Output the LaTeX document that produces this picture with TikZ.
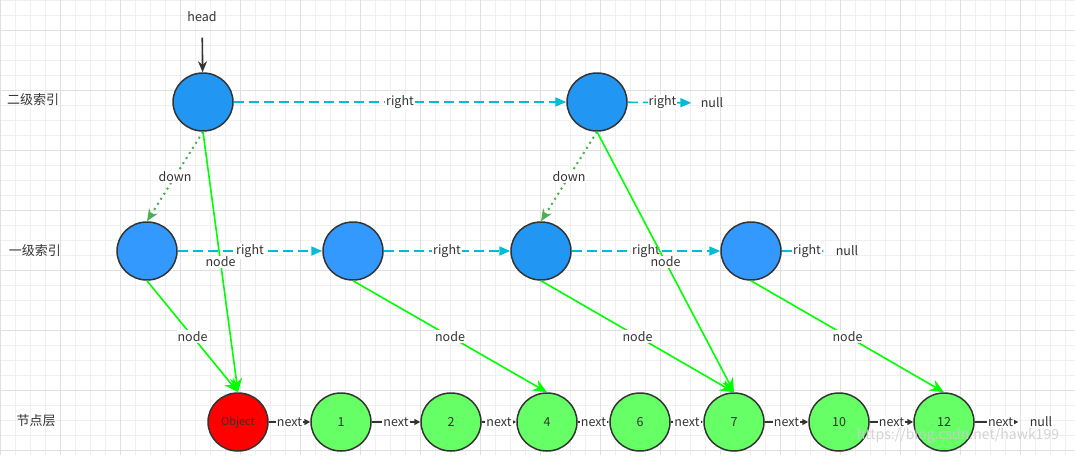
\documentclass[tikz,border=0pt]{standalone}
\usepackage{fontspec}
\setmainfont{Noto Sans CJK SC}
\usetikzlibrary{arrows.meta, shapes.geometric}

\definecolor{gridminor}{HTML}{F0F0F0}
\definecolor{gridmajor}{HTML}{E0E0E0}
\definecolor{idxdark}{HTML}{2196F3}
\definecolor{idxlight}{HTML}{3399FF}
\definecolor{datagreen}{HTML}{66FF66}
\definecolor{linkcyan}{HTML}{00BCD4}
\definecolor{downgreen}{HTML}{4CAF50}
\definecolor{nodegreen}{HTML}{00FF00}
\definecolor{inkgray}{HTML}{333333}

\tikzset{
  cell/.style={ellipse, draw=inkgray, line width=1.5pt, minimum width=60pt,
    minimum height=58pt, inner sep=0pt},
  lbl/.style={fill=white, inner sep=1pt},
  rightlink/.style={linkcyan, line width=1.6pt, dash pattern=on 10pt off 5pt,
    -{Triangle[length=11pt,width=9pt]}},
  downlink/.style={downgreen, line width=2pt, dash pattern=on 2pt off 4pt,
    -{Stealth[length=12pt,width=10pt]}},
  nodelink/.style={nodegreen, line width=1.6pt, -{Stealth[length=14pt,width=12pt]}},
  nextlink/.style={inkgray, line width=2pt, -{Triangle[length=6pt,width=6pt]}},
}

\begin{document}
\begin{tikzpicture}[x=1pt, y=-1pt,
  every node/.style={font=\fontsize{12.5}{14}\selectfont, text=inkgray}]
\useasboundingbox (0,0) rectangle (1075,455);
% Background grid
\fill[white] (0,0) rectangle (1075,455);
\foreach \gx in {0,15,...,1075} \draw[gridminor, line width=0.8pt] (\gx,0) -- (\gx,455);
\foreach \gy in {0,15,...,450} \draw[gridminor, line width=0.8pt] (0,\gy) -- (1075,\gy);
\foreach \gx in {0,60,...,1075} \draw[gridmajor, line width=0.8pt] (\gx,0) -- (\gx,455);
\foreach \gy in {30,90,...,450} \draw[gridmajor, line width=0.8pt] (0,\gy) -- (1075,\gy);

% Level names
\node (lv2) at (33,100) {\fontsize{13}{15}\selectfont 二级索引};
\node (lv1) at (35,251) {\fontsize{13}{15}\selectfont 一级索引};
\node (lv0) at (36,421) {\fontsize{13}{15}\selectfont 节点层};

% Second level index
\node[cell, fill=idxdark] (a) at (203,102) {};
\node[cell, fill=idxdark] (b) at (597,102) {};
\node (nullb) at (712,103) {null};

% First level index
\node[cell, fill=idxlight] (c) at (147,251) {};
\node[cell, fill=idxlight] (d) at (353,251) {};
\node[cell, fill=idxdark] (e) at (541,251) {};
\node[cell, fill=idxlight] (f) at (751,251) {};
\node (nullf) at (847,251) {null};

% Node layer
\node[cell, fill=red] (obj) at (238,422) {\fontsize{11}{13}\selectfont Object};
\node[cell, fill=datagreen] (n1) at (341,422) {1};
\node[cell, fill=datagreen] (n2) at (451,422) {2};
\node[cell, fill=datagreen] (n4) at (547,422) {4};
\node[cell, fill=datagreen] (n6) at (640,422) {6};
\node[cell, fill=datagreen] (n7) at (734,422) {7};
\node[cell, fill=datagreen] (n10) at (839,422) {10};
\node[cell, fill=datagreen] (n12) at (944,422) {12};
\node (null0) at (1041,422) {null};

% Head pointer
\node (head) at (202,17) {head};
\draw[inkgray, line width=1.6pt, -{Stealth[length=11pt,width=9pt]}, shorten <=12pt] (head) -- (a);

% Right links
\draw[rightlink] (a) -- node[lbl]{right} (b);
\draw[rightlink, shorten >=6pt] (b) -- node[lbl]{right} (nullb);
\draw[rightlink] (c) -- node[lbl]{right} (d);
\draw[rightlink] (d) -- node[lbl]{right} (e);
\draw[rightlink] (e) -- node[lbl]{right} (f);
\draw[rightlink, shorten >=8pt] (f) -- node[lbl]{right} (nullf);

% Down links
\draw[downlink] (a.south) -- node[lbl]{down} (c.north);
\draw[downlink] (b.south) -- node[lbl]{down} (e.north);

% Node links
\draw[nodelink] (a.south) -- node[lbl]{node} (obj.north);
\draw[nodelink] (c.south) -- node[lbl]{node} (obj.north);
\draw[nodelink] (d.south) -- node[lbl]{node} (n4.north);
\draw[nodelink] (b.south) -- node[lbl]{node} (n7.north);
\draw[nodelink] (e.south) -- node[lbl]{node} (n7.north);
\draw[nodelink] (f.south) -- node[lbl]{node} (n12.north);

% Next links
\draw[nextlink] (obj) -- node[lbl]{next} (n1);
\draw[nextlink] (n1) -- node[lbl]{next} (n2);
\draw[nextlink] (n2) -- node[lbl]{next} (n4);
\draw[nextlink] (n4) -- node[lbl]{next} (n6);
\draw[nextlink] (n6) -- node[lbl]{next} (n7);
\draw[nextlink] (n7) -- node[lbl]{next} (n10);
\draw[nextlink] (n10) -- node[lbl]{next} (n12);
\draw[nextlink, shorten >=8pt] (n12) -- node[lbl]{next} (null0);

% Watermark
\node[text=gray!40, opacity=0.85] (mark) at (958,436) {\fontsize{14}{16}\selectfont https://blog.csdn.net/hawk199};
\end{tikzpicture}
\end{document}
